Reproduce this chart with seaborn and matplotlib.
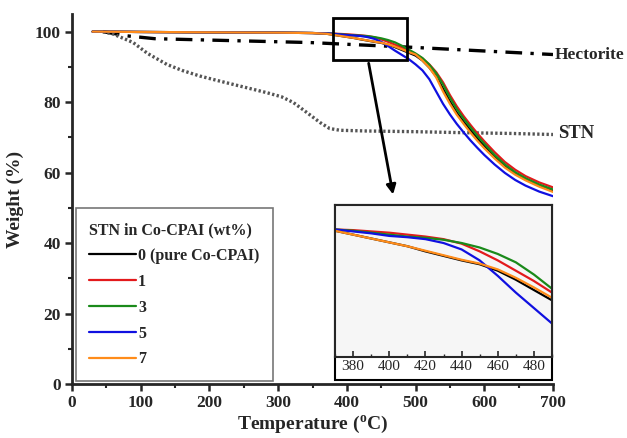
import matplotlib
matplotlib.use("Agg")
import matplotlib.pyplot as plt
import seaborn as sns
from matplotlib.patches import Rectangle
from matplotlib.ticker import MultipleLocator

# Co-CPAI curves share one temperature grid
temps = [30, 100, 200, 300, 350, 370, 380, 390, 400, 410, 420, 430, 440, 450, 460,
         470, 480, 490, 500, 510, 520, 530, 540, 550, 560, 570, 580, 590, 600, 615,
         630, 645, 660, 680, 700]
w_0 = [100, 99.9, 99.8, 99.7, 99.6, 99.4, 99.1, 98.8, 98.5, 98.2, 97.8, 97.45, 97.1, 96.8, 96.3,
       95.6, 94.8, 94.0, 93.2, 91.8, 89.8, 87.3, 83.8, 80.2, 77.0, 74.4, 72.0, 69.7, 67.5, 64.5,
       61.9, 59.8, 58.1, 56.4, 54.9]
w_1 = [100, 99.9, 99.8, 99.7, 99.6, 99.5, 99.45, 99.35, 99.25, 99.1, 98.95, 98.75, 98.4, 97.8, 97.1,
       96.3, 95.5, 94.6, 93.6, 92.4, 90.7, 88.5, 85.6, 82.0, 78.8, 76.0, 73.5, 71.1, 68.9, 65.8,
       63.0, 60.8, 59.0, 57.2, 55.8]
w_3 = [100, 99.9, 99.8, 99.7, 99.6, 99.5, 99.4, 99.25, 99.1, 98.95, 98.85, 98.7, 98.45, 98.1, 97.6,
       96.95, 96.0, 94.9, 93.8, 92.5, 90.6, 88.2, 85.0, 81.3, 78.0, 75.3, 72.8, 70.4, 68.2, 65.0,
       62.3, 60.1, 58.4, 56.6, 55.2]
w_5 = [100, 99.9, 99.8, 99.7, 99.6, 99.5, 99.35, 99.2, 99.0, 98.9, 98.75, 98.45, 97.95, 97.1, 95.9,
       94.6, 93.4, 92.2, 90.7, 89.0, 86.5, 83.0, 79.5, 76.5, 73.8, 71.4, 69.1, 67.0, 65.0, 62.3,
       59.9, 57.9, 56.3, 54.6, 53.3]
w_7 = [100, 99.9, 99.8, 99.7, 99.6, 99.4, 99.1, 98.8, 98.5, 98.2, 97.85, 97.5, 97.15, 96.85, 96.4,
       95.75, 95.0, 94.2, 93.5, 91.8, 89.8, 87.0, 83.0, 79.5, 76.4, 73.8, 71.3, 69.0, 66.9, 64.0,
       61.4, 59.4, 57.8, 56.0, 54.5]

stn_t = [45, 60, 89, 110, 138, 160, 186, 210, 235, 260, 283, 305, 322, 340, 361, 375,
         390, 429, 500, 574, 640, 700]
stn_w = [100, 99.3, 96.9, 93.8, 90.7, 89.0, 87.4, 86.2, 85.0, 83.8, 82.7, 81.5, 79.9,
         77.3, 74.2, 72.5, 72.0, 71.8, 71.6, 71.3, 71.1, 70.8]

hect_t = [45, 80, 120, 200, 346, 500, 600, 700]
hect_w = [100, 98.8, 98.0, 97.6, 96.9, 95.5, 94.5, 93.5]

labels = ["0 (pure Co-CPAI)", "1", "3", "5", "7"]
series = [w_0, w_1, w_3, w_5, w_7]
colors = ["black", "#e31a1c", "#1a8a1a", "#1010e0", "#ff8c1a"]

sns.set_theme(style="ticks")
plt.rcParams["font.family"] = ["Liberation Serif", "DejaVu Serif"]
plt.rcParams["mathtext.fontset"] = "custom"
plt.rcParams["mathtext.rm"] = "Liberation Serif"
plt.rcParams["mathtext.bf"] = "Liberation Serif:bold"

fig = plt.figure(figsize=(6.27, 4.38), dpi=100)
ax = fig.add_axes([72 / 627, 1 - 384 / 438, 481 / 627, 370 / 438])

# main curves
sns.lineplot(x=hect_t, y=hect_w, ax=ax, color="black", lw=2.4,
             linestyle=(0, (5, 2.5, 1, 2.5)))
sns.lineplot(x=stn_t, y=stn_w, ax=ax, color="#555555", lw=2.4,
             linestyle=(0, (0.7, 0.7)))
for lab, w, c in zip(labels, series, colors):
    sns.lineplot(x=temps, y=w, ax=ax, color=c, lw=1.6, label=lab)

ax.set_xlim(0, 700)
ax.set_ylim(0, 105)
ax.xaxis.set_major_locator(MultipleLocator(100))
ax.xaxis.set_minor_locator(MultipleLocator(50))
ax.yaxis.set_major_locator(MultipleLocator(20))
ax.yaxis.set_minor_locator(MultipleLocator(10))
sns.despine(ax=ax)
for s in ["left", "bottom"]:
    ax.spines[s].set_linewidth(2)
ax.tick_params(which="major", direction="out", length=5, width=1.8,
               labelsize=12.5, pad=3)
ax.tick_params(which="minor", direction="out", length=3, width=1.5)
for t in ax.get_xticklabels() + ax.get_yticklabels():
    t.set_fontweight("bold")
ax.set_xlabel(r"Temperature ($^{\mathbf{o}}$C)", fontsize=14, fontweight="bold", labelpad=2)
ax.set_ylabel("Weight (%)", fontsize=14, fontweight="bold", labelpad=8)

ax.text(702, 93.5, "Hectorite", fontsize=12.5, fontweight="bold", va="center",
        ha="left", clip_on=False)
ax.text(708, 71, "STN", fontsize=13.5, fontweight="bold", va="center",
        ha="left", clip_on=False)

# zoom box + arrow
ax.add_patch(Rectangle((380, 92), 108, 12, fill=False, ec="black", lw=2, zorder=5))
ax.annotate("", xy=(468, 53), xytext=(431, 91.8),
            arrowprops=dict(arrowstyle="-|>", color="black", lw=2, mutation_scale=14))

leg = ax.legend(title="STN in Co-CPAI (wt%)", loc="lower left",
                bbox_to_anchor=(0.008, 0.008), borderaxespad=0, fancybox=False,
                edgecolor="#777777", framealpha=1, fontsize=11.5,
                title_fontsize=11.5, handlelength=2.9, handletextpad=0.15,
                labelspacing=0.62, borderpad=0.85, alignment="left")
leg.get_frame().set_linewidth(1.2)
leg.get_title().set_fontweight("bold")
for t in leg.get_texts():
    t.set_fontweight("bold")

# inset frame (includes tick labels)
fig.patches.append(Rectangle((335 / 627, 1 - 380 / 438), 217 / 627, 175 / 438,
                             transform=fig.transFigure, fc="white", ec="black",
                             lw=1.5, zorder=1))
axin = fig.add_axes([335 / 627, 1 - 357 / 438, 217 / 627, 152 / 438], zorder=2)
axin.set_facecolor("#f6f6f6")
for lab, w, c in zip(labels, series, colors):
    sns.lineplot(x=temps, y=w, ax=axin, color=c, lw=1.6, legend=False)
axin.set_xlim(370, 490)
axin.set_ylim(89.6, 101.4)
axin.xaxis.set_minor_locator(MultipleLocator(10))
axin.set_xticks([380, 400, 420, 440, 460, 480])
axin.set_yticks([])
axin.tick_params(axis="x", which="major", direction="in", length=4, width=1.2,
                 labelsize=11, pad=2)
axin.tick_params(axis="x", which="minor", direction="in", length=2.5, width=1)
axin.set_xlabel("")
axin.set_ylabel("")
for s in axin.spines.values():
    s.set_linewidth(1.5)

fig.savefig("out.png", dpi=100)
